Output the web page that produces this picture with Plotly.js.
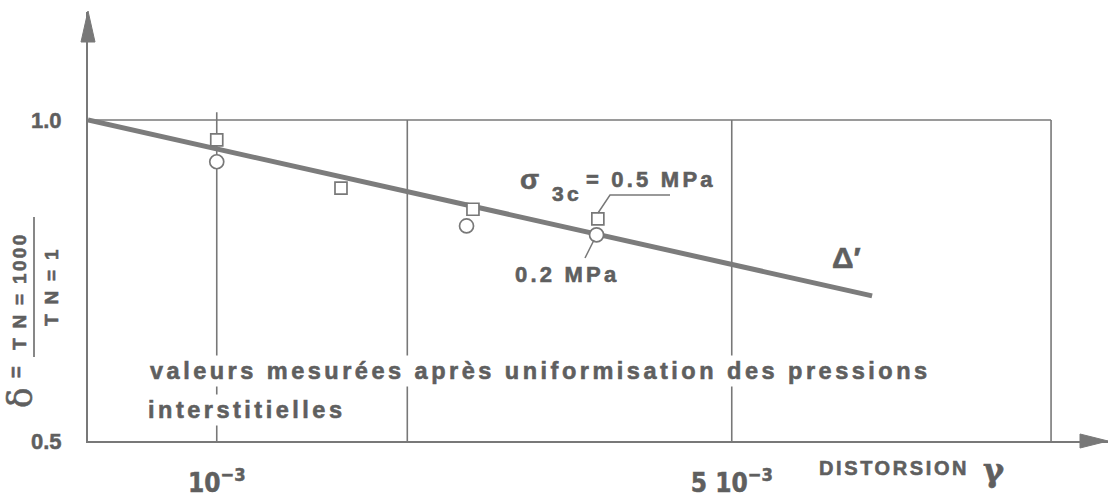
<!DOCTYPE html>
<html>
<head>
<meta charset="utf-8">
<script src="https://cdn.plot.ly/plotly-3.0.1.min.js"></script>
<style id="ls">
  body { margin: 0; background: #fff; }
  text.annotation-text { letter-spacing: 3.2px; stroke: #5f5f5f; stroke-width: 0.6px; }
  text.annotation-text[data-unformatted^="valeurs"],
  text.annotation-text[data-unformatted="interstitielles"] { letter-spacing: 3.5px; }
  text.annotation-text[data-unformatted="DISTORSION"] { letter-spacing: 2.6px; }
  text.annotation-text[data-unformatted^="T N"] { letter-spacing: 2.3px; }
  text.annotation-text[data-unformatted="δ"],
  text.annotation-text[data-unformatted="γ"],
  text.annotation-text[data-unformatted="σ"],
  text.annotation-text[data-unformatted="Δ′"] { letter-spacing: 0px; }
  .xtick text, .ytick text { stroke: #5f5f5f; stroke-width: 0.5px; }
</style>
</head>
<body>
<div id="chart" style="width:1109px;height:498px;"></div>
<script>
// ---- data ----
const sq05_x = [1.0e-3, 1.965e-3, 2.99e-3, 3.96e-3];   // sigma3c = 0.5 MPa (squares)
const sq05_y = [0.969, 0.894, 0.861, 0.846];
const ci02_x = [1.0e-3, 2.94e-3, 3.95e-3];              // 0.2 MPa (circles)
const ci02_y = [0.935, 0.835, 0.821];
const delta_x = [0, 6.09e-3];                           // fitted line Δ'
const delta_y = [1.0, 0.726];
const xTickVals = [1e-3, 5e-3];
const xTickText = ['10<sup>−3</sup>', '5 10<sup>−3</sup>'];
const yTickVals = [0.5, 1.0];
const yTickText = ['0.5', '1.0'];
const gridX = [1e-3, 2.48e-3, 5e-3, 7.48e-3];

// ---- layout helpers (pixel -> paper) ----
const L = 88, R = 1, T = 12, B = 57, W = 1109, H = 498;
const PW = W - L - R, PH = H - T - B;
const P = px => (px - L) / PW;
const Q = py => (H - B - py) / PH;

const grey = '#787878';
const tgrey = '#5f5f5f';
const FONT = 'Liberation Sans, Arial, sans-serif';
const NARROW = 'Liberation Sans Narrow, DejaVu Sans Condensed, Arial Narrow, sans-serif';

const traces = [
  {x: delta_x, y: delta_y, mode: 'lines', line: {color: '#7c7c7c', width: 5}, hoverinfo: 'skip', showlegend: false},
  {x: sq05_x, y: sq05_y, mode: 'markers', showlegend: false,
   marker: {symbol: 'square', size: 12, color: '#fff', line: {color: grey, width: 1.7}}},
  {x: ci02_x, y: ci02_y, mode: 'markers', showlegend: false,
   marker: {symbol: 'circle', size: 14, color: '#fff', line: {color: grey, width: 1.7}}}
];

const shapes = [];
gridX.forEach((gx, i) => {
  shapes.push({type: 'line', xref: 'x', yref: 'y', x0: gx, x1: gx, y0: 0.5, y1: i === 0 ? 1.012 : 1.0,
    line: {color: grey, width: 1.6}, layer: 'below'});
});
shapes.push({type: 'line', xref: 'x', yref: 'y', x0: 0, x1: gridX[gridX.length - 1], y0: 1.0, y1: 1.0,
  line: {color: grey, width: 1.6}, layer: 'below'});
shapes.push({type: 'path', xref: 'paper', yref: 'paper',
  path: `M ${P(88)} ${Q(11)} L ${P(81)} ${Q(42)} L ${P(95)} ${Q(42)} Z`,
  fillcolor: grey, line: {color: grey, width: 1}});
shapes.push({type: 'path', xref: 'paper', yref: 'paper',
  path: `M ${P(1108)} ${Q(441)} L ${P(1080)} ${Q(434)} L ${P(1080)} ${Q(448)} Z`,
  fillcolor: grey, line: {color: grey, width: 1}});
shapes.push({type: 'path', xref: 'paper', yref: 'paper',
  path: `M ${P(598)} ${Q(213)} L ${P(610)} ${Q(195)} L ${P(670)} ${Q(195)}`,
  line: {color: grey, width: 1.5}});
shapes.push({type: 'line', xref: 'paper', yref: 'paper',
  x0: P(594), y0: Q(240), x1: P(585), y1: Q(258), line: {color: grey, width: 1.5}});
shapes.push({type: 'line', xref: 'paper', yref: 'paper',
  x0: P(34), y0: Q(217), x1: P(34), y1: Q(357), line: {color: tgrey, width: 1.5}});

function ann(text, px, py, size, opts) {
  return Object.assign({text: text, xref: 'paper', yref: 'paper', x: P(px), y: Q(py),
    xanchor: 'center', yanchor: 'middle', showarrow: false,
    font: {family: FONT, size: size, color: tgrey, weight: 700}}, opts || {});
}

const annotations = [
  ann('valeurs mesurées après uniformisation des pressions', 147, 371, 23.5,
      {xanchor: 'left', bgcolor: '#fff', borderpad: 2}),
  ann('interstitielles', 145, 410, 23.5, {xanchor: 'left', bgcolor: '#fff', borderpad: 2}),
  ann('σ', 529, 179, 28),
  ann('3c', 567, 194, 21),
  ann('= 0.5 MPa', 651, 180, 22),
  ann('0.2 MPa', 567, 274, 22),
  ann('Δ′', 846, 257, 30),
  ann('DISTORSION', 894, 468, 20),
  ann('γ', 994, 470, 32, {font: {family: 'DejaVu Serif, serif', size: 32, color: tgrey, weight: 700}}),
  ann('T N = 1000', 19, 291, 19, {textangle: -90}),
  ann('T N = 1', 51, 287, 19, {textangle: -90}),
  ann('=', 16, 371, 20, {textangle: -90}),
  ann('δ', 20, 398, 34, {textangle: -90, font: {family: 'DejaVu Serif, serif', size: 34, color: tgrey}})
];

const layout = {
  width: W, height: H,
  margin: {l: L, r: R, t: T, b: B},
  paper_bgcolor: '#fff', plot_bgcolor: '#fff',
  showlegend: false,
  xaxis: {range: [0, PW / 128.75e3], showline: true, linecolor: grey, linewidth: 2,
    showgrid: false, zeroline: false, ticks: '', tickvals: xTickVals, ticktext: xTickText,
    tickfont: {family: NARROW, size: 26, color: tgrey, weight: 700}, ticklabelstandoff: 18},
  yaxis: {range: [0.5, 0.5 + PH / 642], showline: true, linecolor: grey, linewidth: 2,
    showgrid: false, zeroline: false, ticks: '', tickvals: yTickVals, ticktext: yTickText,
    tickfont: {family: FONT, size: 22, color: tgrey, weight: 700}, ticklabelstandoff: 20},
  shapes: shapes,
  annotations: annotations
};

Plotly.newPlot('chart', traces, layout, {displayModeBar: false, staticPlot: true});
</script>
</body>
</html>
